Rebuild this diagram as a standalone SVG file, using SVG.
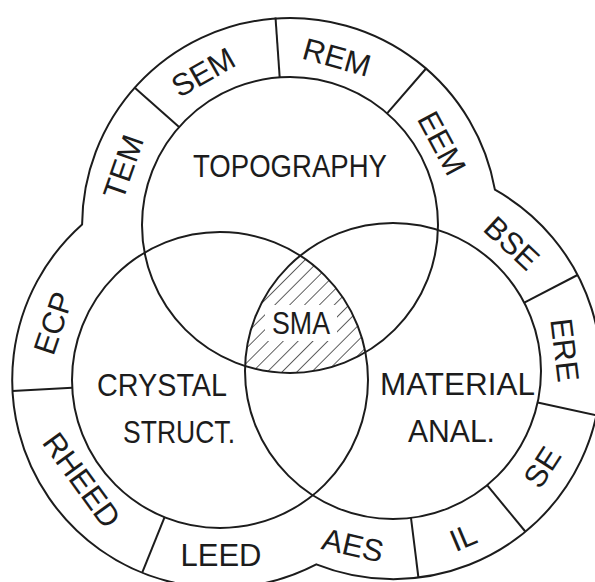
<svg xmlns="http://www.w3.org/2000/svg" width="595" height="582" viewBox="0 0 595 582">
  <style>
    .ln { fill: none; stroke: #1c1c1c; stroke-width: 2; }
    .lbl { font-family: "Liberation Sans", Arial, sans-serif; font-size: 31px; fill: #1c1c1c; text-anchor: middle; }
    .hl { stroke: #1c1c1c; stroke-width: 1.4; }
  </style>
  <defs>
    <pattern id="hatch" patternUnits="userSpaceOnUse" width="10.5" height="10.5" patternTransform="rotate(45)">
      <line class="hl" x1="0" y1="0" x2="0" y2="10.5"/>
    </pattern>
    <clipPath id="cT"><circle cx="290" cy="225" r="148"/></clipPath>
    <clipPath id="cL"><circle cx="220" cy="380" r="148"/></clipPath>
    <clipPath id="cR"><circle cx="393" cy="371" r="148"/></clipPath>
  </defs>
  <rect width="595" height="582" fill="#ffffff"/>

  <g id="outer-ring">
    <path class="ln" d="M82.1,224.4 A208,208 0 0 1 494.9,189.7 A208,208 0 0 1 316.3,564.4 A208,208 0 0 1 82.1,224.4 Z"/>
  </g>

  <g id="sma">
    <g clip-path="url(#cT)">
      <g clip-path="url(#cL)">
        <rect x="140" y="200" width="320" height="220" fill="url(#hatch)" clip-path="url(#cR)"/>
      </g>
    </g>
    <rect x="265" y="305" width="72" height="36" fill="#ffffff"/>
    <text class="lbl" x="301" y="334" textLength="58" lengthAdjust="spacingAndGlyphs">SMA</text>
  </g>

  <g id="topography">
    <circle class="ln" cx="290" cy="225" r="148"/>
    <text class="lbl" x="290" y="177" textLength="194" lengthAdjust="spacingAndGlyphs">TOPOGRAPHY</text>
  </g>
  <g id="crystal-structure">
    <circle class="ln" cx="220" cy="380" r="148"/>
    <text class="lbl" x="162" y="396" textLength="130" lengthAdjust="spacingAndGlyphs">CRYSTAL</text>
    <text class="lbl" x="179" y="443" textLength="112" lengthAdjust="spacingAndGlyphs">STRUCT.</text>
  </g>
  <g id="material-analysis">
    <circle class="ln" cx="393" cy="371" r="148"/>
    <text class="lbl" x="457.5" y="395" textLength="155" lengthAdjust="spacingAndGlyphs">MATERIAL</text>
    <text class="lbl" x="451.5" y="442" textLength="87" lengthAdjust="spacingAndGlyphs">ANAL.</text>
  </g>

  <g id="connectors">
    <line class="ln" x1="179.1" y1="126.9" x2="134.2" y2="87.2"/>
    <line class="ln" x1="279.7" y1="77.4" x2="275.5" y2="17.5"/>
    <line class="ln" x1="387.1" y1="113.3" x2="426.5" y2="68.0"/>
    <line class="ln" x1="524.3" y1="302.7" x2="577.5" y2="275.0"/>
    <line class="ln" x1="537.6" y1="402.5" x2="596.2" y2="415.3"/>
    <line class="ln" x1="487.1" y1="485.2" x2="525.3" y2="531.5"/>
    <line class="ln" x1="411.0" y1="517.9" x2="418.4" y2="577.4"/>
    <line class="ln" x1="164.6" y1="517.2" x2="142.1" y2="572.9"/>
    <line class="ln" x1="72.2" y1="387.7" x2="12.3" y2="390.9"/>
  </g>

  <g id="sem" transform="translate(203,72) rotate(-29.6)"><text class="lbl" x="0" y="11">SEM</text></g>
  <g id="rem" transform="translate(337,57) rotate(15.7)"><text class="lbl" x="0" y="11">REM</text></g>
  <g id="eem" transform="translate(442,143) rotate(61.7)"><text class="lbl" x="0" y="11">EEM</text></g>
  <g id="bse" transform="translate(512,243) rotate(42.9)"><text class="lbl" x="0" y="11">BSE</text></g>
  <g id="ere" transform="translate(565,350) rotate(83)"><text class="lbl" x="0" y="11">ERE</text></g>
  <g id="se" transform="translate(542,467) rotate(-57.2)"><text class="lbl" x="0" y="11">SE</text></g>
  <g id="il" transform="translate(463,537) rotate(-22.9)"><text class="lbl" x="0" y="11">IL</text></g>
  <g id="aes" transform="translate(353,545) rotate(12.9)"><text class="lbl" x="0" y="11">AES</text></g>
  <g id="leed" transform="translate(221,555) rotate(0)"><text class="lbl" x="0" y="11">LEED</text></g>
  <g id="rheed" transform="translate(82,480) rotate(54)"><text class="lbl" x="0" y="11">RHEED</text></g>
  <g id="ecp" transform="translate(53,323) rotate(-71.2)"><text class="lbl" x="0" y="11">ECP</text></g>
  <g id="tem" transform="translate(123,167) rotate(-70.8)"><text class="lbl" x="0" y="11">TEM</text></g>
</svg>
